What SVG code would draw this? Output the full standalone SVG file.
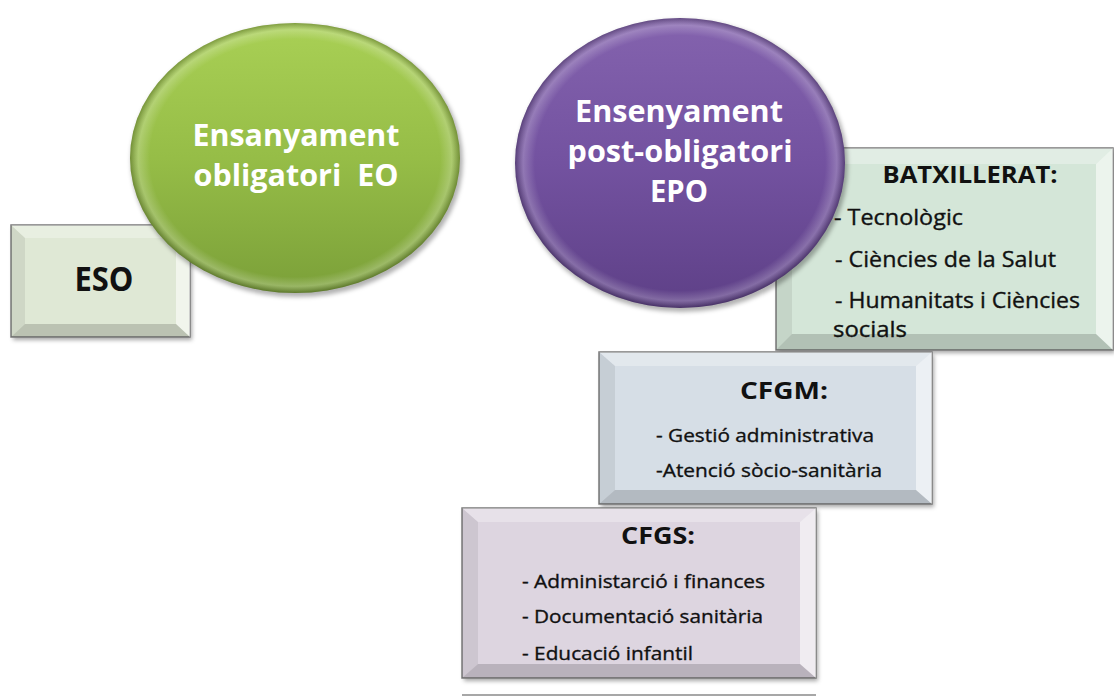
<svg xmlns="http://www.w3.org/2000/svg" width="1114" height="696" viewBox="0 0 1114 696">
<defs>
<style>
.ell{font-family:"Open Sans","Liberation Sans",sans-serif;font-weight:bold;fill:#ffffff;text-anchor:middle}
.ttl{font-family:"Open Sans","Liberation Sans",sans-serif;font-weight:bold;fill:#111111;text-anchor:middle}
.itm{font-family:"Open Sans","Liberation Sans",sans-serif;fill:#111111;stroke:#111111;stroke-width:0.35}
.frame{stroke:#7a7a7a;stroke-width:1.5}
.bt{fill:#ffffff;fill-opacity:0.3}
.bl{fill:#000000;fill-opacity:0.07}
.br{fill:#ffffff;fill-opacity:0.55}
.bb{fill:#000000;fill-opacity:0.16}
.shadow{fill:#000000;fill-opacity:0.35;filter:url(#blur)}
</style>
<filter id="blur" x="-10%" y="-10%" width="120%" height="120%"><feGaussianBlur stdDeviation="2"/></filter>
<linearGradient id="gGreen" x1="0" y1="0" x2="0" y2="1">
<stop offset="0" stop-color="#a9d055"/>
<stop offset="0.5" stop-color="#96bd47"/>
<stop offset="1" stop-color="#7ba039"/>
</linearGradient>
<linearGradient id="gPurple" x1="0" y1="0" x2="0" y2="1">
<stop offset="0" stop-color="#8463ae"/>
<stop offset="0.5" stop-color="#7352a0"/>
<stop offset="1" stop-color="#5e4087"/>
</linearGradient>
<radialGradient id="rim" cx="0.5" cy="0.5" r="0.5">
<stop offset="0.88" stop-color="#ffffff" stop-opacity="0"/>
<stop offset="0.95" stop-color="#ffffff" stop-opacity="0.22"/>
<stop offset="1" stop-color="#000000" stop-opacity="0.25"/>
</radialGradient>
</defs>

<g id="eso">
<rect class="shadow" x="13" y="228" width="179" height="112"/>
<rect class="frame" x="11" y="225" width="179" height="112" fill="#dfe8d5"/>
<polygon class="bt" points="11,225 190,225 176,238 25,238"/>
<polygon class="bl" points="11,225 25,238 25,324 11,337"/>
<polygon class="br" points="190,225 190,337 176,324 176,238"/>
<polygon class="bb" points="11,337 25,324 176,324 190,337"/>
<text class="ttl" x="104" y="291" font-size="34" textLength="59" lengthAdjust="spacingAndGlyphs">ESO</text>
</g>

<g id="batxillerat">
<rect class="shadow" x="778" y="151" width="337" height="202"/>
<rect class="frame" x="776" y="148" width="337" height="202" fill="#d4e6d8"/>
<polygon class="bt" points="776,148 1113,148 1096,164 792,164"/>
<polygon class="bl" points="776,148 792,164 792,334 776,350"/>
<polygon class="br" points="1113,148 1113,350 1096,334 1096,164"/>
<polygon class="bb" points="776,350 792,334 1096,334 1113,350"/>
<text class="ttl" x="970" y="183" font-size="23" textLength="175" lengthAdjust="spacingAndGlyphs">BATXILLERAT:</text>
<text class="itm" x="834" y="225" font-size="22" textLength="129" lengthAdjust="spacingAndGlyphs">- Tecnològic</text>
<text class="itm" x="835" y="267" font-size="22" textLength="221" lengthAdjust="spacingAndGlyphs">- Ciències de la Salut</text>
<text class="itm" x="835" y="308" font-size="22" textLength="245" lengthAdjust="spacingAndGlyphs">- Humanitats i Ciències</text>
<text class="itm" x="833" y="337" font-size="22" textLength="74" lengthAdjust="spacingAndGlyphs">socials</text>
</g>

<g id="cfgm">
<rect class="shadow" x="601" y="355" width="333" height="152"/>
<rect class="frame" x="599" y="352" width="333" height="152" fill="#d6dee6"/>
<polygon class="bt" points="599,352 932,352 916,366 615,366"/>
<polygon class="bl" points="599,352 615,366 615,490 599,504"/>
<polygon class="br" points="932,352 932,504 916,490 916,366"/>
<polygon class="bb" points="599,504 615,490 916,490 932,504"/>
<text class="ttl" x="784" y="399" font-size="23" textLength="88" lengthAdjust="spacingAndGlyphs">CFGM:</text>
<text class="itm" x="656" y="442" font-size="19" textLength="218" lengthAdjust="spacingAndGlyphs">- Gestió administrativa</text>
<text class="itm" x="656" y="477" font-size="19" textLength="226" lengthAdjust="spacingAndGlyphs">-Atenció sòcio-sanitària</text>
</g>

<g id="cfgs">
<rect class="shadow" x="464" y="511" width="354" height="170"/>
<rect class="frame" x="462" y="508" width="354" height="170" fill="#ddd5e0"/>
<polygon class="bt" points="462,508 816,508 800,522 478,522"/>
<polygon class="bl" points="462,508 478,522 478,664 462,678"/>
<polygon class="br" points="816,508 816,678 800,664 800,522"/>
<polygon class="bb" points="462,678 478,664 800,664 816,678"/>
<text class="ttl" x="658" y="544" font-size="23" textLength="74" lengthAdjust="spacingAndGlyphs">CFGS:</text>
<text class="itm" x="522" y="588" font-size="19" textLength="243" lengthAdjust="spacingAndGlyphs">- Administarció i finances</text>
<text class="itm" x="522" y="623" font-size="19" textLength="241" lengthAdjust="spacingAndGlyphs">- Documentació sanitària</text>
<text class="itm" x="522" y="660" font-size="19" textLength="171" lengthAdjust="spacingAndGlyphs">- Educació infantil</text>
</g>

<g id="next-box-edge">
<line x1="462" y1="695" x2="816" y2="695" stroke="#8a8a8a" stroke-width="1.5"/>
</g>

<g id="eo">
<ellipse cx="297" cy="161" rx="166" ry="136" fill="#000000" fill-opacity="0.3" filter="url(#blur)"/>
<ellipse cx="295" cy="158" rx="165" ry="135" fill="url(#gGreen)"/>
<ellipse cx="295" cy="158" rx="165" ry="135" fill="url(#rim)"/>
<text class="ell" x="296" y="146" font-size="31" textLength="207" lengthAdjust="spacingAndGlyphs">Ensanyament</text>
<text class="ell" x="296" y="186" font-size="31" textLength="205" lengthAdjust="spacingAndGlyphs" xml:space="preserve">obligatori  EO</text>
</g>

<g id="epo">
<ellipse cx="682" cy="166" rx="166" ry="146" fill="#000000" fill-opacity="0.3" filter="url(#blur)"/>
<ellipse cx="680" cy="163" rx="165" ry="145" fill="url(#gPurple)"/>
<ellipse cx="680" cy="163" rx="165" ry="145" fill="url(#rim)"/>
<text class="ell" x="679" y="122" font-size="31" textLength="208" lengthAdjust="spacingAndGlyphs">Ensenyament</text>
<text class="ell" x="680" y="162" font-size="31" textLength="225" lengthAdjust="spacingAndGlyphs">post-obligatori</text>
<text class="ell" x="679" y="202" font-size="31" textLength="58" lengthAdjust="spacingAndGlyphs">EPO</text>
</g>
</svg>
